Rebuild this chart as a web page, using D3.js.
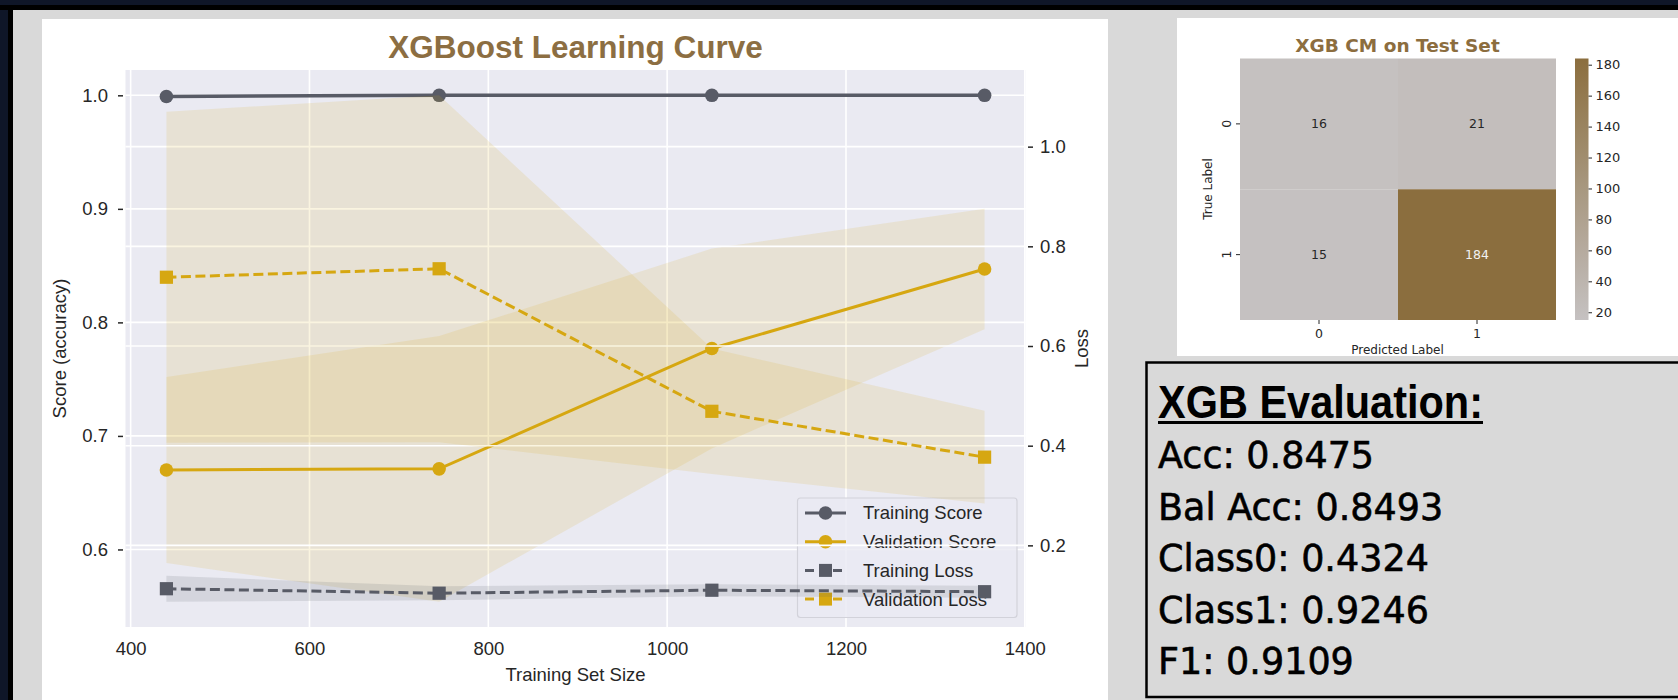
<!DOCTYPE html>
<html><head><meta charset="utf-8">
<script src="https://cdn.jsdelivr.net/npm/d3@7"></script>
<style>
html,body{margin:0;padding:0;background:#0f1628;}
svg{display:block;}
</style></head>
<body>
<svg id="c" width="1678" height="700"></svg>
<script>
// ---------- data ----------
const sizes = [440, 745, 1050, 1355];
const trainScore = [0.999, 1.0, 1.0, 1.0];
const trainScoreStd = [0.001, 0, 0, 0];
const valScore = [0.670, 0.671, 0.777, 0.847];
const valScoreStd = [0.082, 0.117, 0.088, 0.053];
const trainLoss = [0.113, 0.104, 0.110, 0.107];
const trainLossStd = [0.026, 0.014, 0.012, 0.012];
const valLoss = [0.738, 0.755, 0.469, 0.377];
const valLossStd = [0.332, 0.348, 0.126, 0.093];
const xTicks = [400, 600, 800, 1000, 1200, 1400];
const scoreTicks = [0.6, 0.7, 0.8, 0.9, 1.0];
const lossTicks = [0.2, 0.4, 0.6, 0.8, 1.0];
const legendLabels = ["Training Score", "Validation Score", "Training Loss", "Validation Loss"];

const cmRows = ["0", "1"];
const cmCols = ["0", "1"];
const cmValues = [[16, 21], [15, 184]];
const cbTicks = [20, 40, 60, 80, 100, 120, 140, 160, 180];

const evalTitle = "XGB Evaluation:";
const metricNames = ["Acc", "Bal Acc", "Class0", "Class1", "F1"];
const metricValues = ["0.8475", "0.8493", "0.4324", "0.9246", "0.9109"];

// ---------- styles ----------
const GRAY = "#585b66", GOLD = "#d6a711", TXT = "#262626";
const SANS = "'Liberation Sans', Arial, sans-serif";
const DJV = "'DejaVu Sans', sans-serif";

const svg = d3.select("#c");

// frame
svg.append("rect").attr("x",0).attr("y",0).attr("width",1678).attr("height",700).attr("fill","#0f1628");
svg.append("rect").attr("x",0).attr("y",5).attr("width",1678).attr("height",5).attr("fill","#000");
svg.append("rect").attr("x",8).attr("y",5).attr("width",5).attr("height",695).attr("fill","#000");
svg.append("rect").attr("x",13).attr("y",10).attr("width",1665).attr("height",690).attr("fill","#d9d9d9");
svg.append("rect").attr("x",42).attr("y",19).attr("width",1066).attr("height",681).attr("fill","#fff");

// ---------- learning curve ----------
const L = 125.5, R = 1025.5, T = 70, B = 627;
const xPad = (d3.max(sizes) - d3.min(sizes)) * 0.05;
const x = d3.scaleLinear().domain([d3.min(sizes) - xPad, d3.max(sizes) + xPad]).range([L, R]);

function padExt(means, stds){
  const lo = d3.min(means.map((m,i)=>m - stds[i]));
  const hi = d3.max(means.map((m,i)=>m + stds[i]));
  const p = (hi - lo) * 0.05;
  return [lo - p, hi + p];
}
const yS = d3.scaleLinear()
  .domain(padExt(trainScore.concat(valScore), trainScoreStd.concat(valScoreStd)))
  .range([B, T]);
const yL = d3.scaleLinear()
  .domain(padExt(trainLoss.concat(valLoss), trainLossStd.concat(valLossStd)))
  .range([B, T]);

const g = svg.append("g");
g.append("rect").attr("x",L).attr("y",T).attr("width",R-L).attr("height",B-T).attr("fill","#eaeaf2");

// primary grid
g.selectAll(".vg").data(xTicks).join("line")
  .attr("x1",d=>x(d)).attr("x2",d=>x(d)).attr("y1",T).attr("y2",B)
  .attr("stroke","#fff").attr("stroke-width",1.6);
g.selectAll(".hg").data(scoreTicks).join("line")
  .attr("x1",L).attr("x2",R).attr("y1",d=>yS(d)).attr("y2",d=>yS(d))
  .attr("stroke","#fff").attr("stroke-width",1.6);

function band(yScale, means, stds){
  return d3.area().x((d,i)=>x(sizes[i])).y0((d,i)=>yScale(means[i]-stds[i])).y1((d,i)=>yScale(means[i]+stds[i]))(means);
}
function lineP(yScale, means){
  return d3.line().x((d,i)=>x(sizes[i])).y(d=>yScale(d))(means);
}

// score bands
g.append("path").attr("d",band(yS,trainScore,trainScoreStd)).attr("fill",GRAY).attr("fill-opacity",0.15);
g.append("path").attr("d",band(yS,valScore,valScoreStd)).attr("fill",GOLD).attr("fill-opacity",0.13);

// score lines
g.append("path").attr("d",lineP(yS,trainScore)).attr("fill","none").attr("stroke",GRAY).attr("stroke-width",3.5);
g.selectAll(".tsm").data(trainScore).join("circle").attr("cx",(d,i)=>x(sizes[i])).attr("cy",d=>yS(d)).attr("r",6.8).attr("fill",GRAY);
g.append("path").attr("d",lineP(yS,valScore)).attr("fill","none").attr("stroke",GOLD).attr("stroke-width",3);
g.selectAll(".vsm").data(valScore).join("circle").attr("cx",(d,i)=>x(sizes[i])).attr("cy",d=>yS(d)).attr("r",6.8).attr("fill",GOLD);

// legend
const lg = g.append("g");
const lgX = 797.5, lgY = 498, lgW = 219.5, lgH = 119.5, rowH = 28.7, row0 = 513;
lg.append("rect").attr("x",lgX).attr("y",lgY).attr("width",lgW).attr("height",lgH).attr("rx",3)
  .attr("fill","#eaeaf2").attr("fill-opacity",0.8).attr("stroke","#d2d2da").attr("stroke-width",1.2);
const lgStyles = [
  {c:GRAY, dash:null, m:"circle"},
  {c:GOLD, dash:null, m:"circle"},
  {c:GRAY, dash:"10,4.5", m:"square"},
  {c:GOLD, dash:"10,4.5", m:"square"}
];
legendLabels.forEach((lab,i)=>{
  const yy = row0 + i*rowH, s = lgStyles[i];
  lg.append("line").attr("x1",805).attr("x2",846).attr("y1",yy).attr("y2",yy)
    .attr("stroke",s.c).attr("stroke-width",3).attr("stroke-dasharray",s.dash ? "9,5" : null);
  if (s.m === "circle") lg.append("circle").attr("cx",825.5).attr("cy",yy).attr("r",6.8).attr("fill",s.c);
  else lg.append("rect").attr("x",819).attr("y",yy-6.5).attr("width",13).attr("height",13).attr("fill",s.c);
  lg.append("text").attr("x",863).attr("y",yy).attr("dy","0.35em").attr("font-family",SANS)
    .attr("font-size",18.5).attr("fill",TXT).text(lab);
});

// twin grid (drawn over primary content)
g.selectAll(".lg2").data(lossTicks).join("line")
  .attr("x1",L).attr("x2",R).attr("y1",d=>yL(d)).attr("y2",d=>yL(d))
  .attr("stroke","#fff").attr("stroke-width",1.6);

// loss bands
g.append("path").attr("d",band(yL,trainLoss,trainLossStd)).attr("fill",GRAY).attr("fill-opacity",0.15);
g.append("path").attr("d",band(yL,valLoss,valLossStd)).attr("fill",GOLD).attr("fill-opacity",0.13);

// loss lines
g.append("path").attr("d",lineP(yL,trainLoss)).attr("fill","none").attr("stroke",GRAY).attr("stroke-width",3).attr("stroke-dasharray","10,4.5");
g.selectAll(".tlm").data(trainLoss).join("rect").attr("x",(d,i)=>x(sizes[i])-6.6).attr("y",d=>yL(d)-6.6).attr("width",13.2).attr("height",13.2).attr("fill",GRAY);
g.append("path").attr("d",lineP(yL,valLoss)).attr("fill","none").attr("stroke",GOLD).attr("stroke-width",3).attr("stroke-dasharray","10,4.5");
g.selectAll(".vlm").data(valLoss).join("rect").attr("x",(d,i)=>x(sizes[i])-6.6).attr("y",d=>yL(d)-6.6).attr("width",13.2).attr("height",13.2).attr("fill",GOLD);

// axes
function styleAxis(sel){
  sel.select(".domain").remove();
  sel.selectAll("text").attr("font-family",SANS).attr("font-size",18.5).attr("fill",TXT);
  sel.selectAll("line").attr("stroke",TXT).attr("stroke-width",1.5);
}
svg.append("g").attr("transform",`translate(0,${B})`)
  .call(d3.axisBottom(x).tickValues(xTicks).tickSize(0).tickPadding(14.5).tickFormat(d3.format("d")))
  .call(styleAxis);
svg.append("g").attr("transform",`translate(${L-2.5},0)`)
  .call(d3.axisLeft(yS).tickValues(scoreTicks).tickSize(5).tickPadding(10).tickFormat(d3.format(".1f")))
  .call(styleAxis);
svg.append("g").attr("transform",`translate(${R+2.5},0)`)
  .call(d3.axisRight(yL).tickValues(lossTicks).tickSize(5).tickPadding(7).tickFormat(d3.format(".1f")))
  .call(styleAxis);

// labels
svg.append("text").attr("x",(L+R)/2).attr("y",57.5).attr("text-anchor","middle")
  .attr("font-family",SANS).attr("font-weight","bold").attr("font-size",31.5).attr("fill","#8c6e42")
  .text("XGBoost Learning Curve");
svg.append("text").attr("x",(L+R)/2).attr("y",675).attr("dy","0.35em").attr("text-anchor","middle")
  .attr("font-family",SANS).attr("font-size",18.5).attr("fill",TXT).text("Training Set Size");
svg.append("text").attr("transform",`translate(60,${(T+B)/2}) rotate(-90)`).attr("dy","0.35em").attr("text-anchor","middle")
  .attr("font-family",SANS).attr("font-size",18.5).attr("fill",TXT).text("Score (accuracy)");
svg.append("text").attr("transform",`translate(1082,${(T+B)/2}) rotate(-90)`).attr("dy","0.35em").attr("text-anchor","middle")
  .attr("font-family",SANS).attr("font-size",18.5).attr("fill",TXT).text("Loss");

// ---------- confusion matrix ----------
svg.append("rect").attr("x",1177).attr("y",18).attr("width",501).attr("height",338).attr("fill","#fff");
const cmX = d3.scaleBand().domain(cmCols).range([1240, 1556]);
const cmY = d3.scaleBand().domain(cmRows).range([58.5, 320]);
const flat = cmValues.flat();
const vmin = d3.min(flat), vmax = d3.max(flat);
const col = d3.scaleLinear().domain([vmin, vmax]).range(["#c5c1c1", "#8b6e3e"]).interpolate(d3.interpolateRgb);
const cells = [];
cmRows.forEach((r,i)=>cmCols.forEach((c,j)=>cells.push({r,c,v:cmValues[i][j]})));
svg.selectAll(".cell").data(cells).join("rect")
  .attr("x",d=>cmX(d.c)).attr("y",d=>cmY(d.r)).attr("width",cmX.bandwidth()).attr("height",cmY.bandwidth())
  .attr("fill",d=>col(d.v));
svg.selectAll(".ann").data(cells).join("text")
  .attr("x",d=>cmX(d.c)+cmX.bandwidth()/2).attr("y",d=>cmY(d.r)+cmY.bandwidth()/2).attr("dy","0.35em")
  .attr("text-anchor","middle").attr("font-family",DJV).attr("font-size",12.5)
  .attr("fill",d=> d.v > (vmin+vmax)/2 ? "#f2f2f2" : "#262626").text(d=>d.v);

// cm ticks
cmRows.forEach(r=>{
  const yy = cmY(r)+cmY.bandwidth()/2;
  svg.append("line").attr("x1",1236).attr("x2",1240).attr("y1",yy).attr("y2",yy).attr("stroke","#262626").attr("stroke-width",1);
  svg.append("text").attr("transform",`translate(1227,${yy}) rotate(-90)`).attr("text-anchor","middle").attr("dy","0.35em")
    .attr("font-family",DJV).attr("font-size",12.5).attr("fill","#262626").text(r);
});
cmCols.forEach(c=>{
  const xx = cmX(c)+cmX.bandwidth()/2;
  svg.append("line").attr("x1",xx).attr("x2",xx).attr("y1",320).attr("y2",324).attr("stroke","#262626").attr("stroke-width",1);
  svg.append("text").attr("x",xx).attr("y",334).attr("text-anchor","middle").attr("dy","0.35em")
    .attr("font-family",DJV).attr("font-size",12.5).attr("fill","#262626").text(c);
});
svg.append("text").attr("x",1397.5).attr("y",350).attr("dy","0.35em").attr("text-anchor","middle")
  .attr("font-family",DJV).attr("font-size",12).attr("fill","#262626").text("Predicted Label");
svg.append("text").attr("transform","translate(1208,189) rotate(-90)").attr("dy","0.35em").attr("text-anchor","middle")
  .attr("font-family",DJV).attr("font-size",12).attr("fill","#262626").text("True Label");
svg.append("text").attr("x",1397.5).attr("y",51.5).attr("text-anchor","middle")
  .attr("font-family",DJV).attr("font-weight","bold").attr("font-size",18.5).attr("fill","#8c6d3e").text("XGB CM on Test Set");

// colorbar
const cbS = d3.scaleLinear().domain([vmin, vmax]).range([320, 58.5]);
const defs = svg.append("defs");
const grad = defs.append("linearGradient").attr("id","cbg").attr("x1",0).attr("x2",0).attr("y1",1).attr("y2",0);
d3.range(0,1.0001,0.1).forEach(t=>grad.append("stop").attr("offset",t).attr("stop-color",col(vmin + t*(vmax-vmin))));
svg.append("rect").attr("x",1575).attr("y",58.5).attr("width",13.5).attr("height",261.5).attr("fill","url(#cbg)");
svg.append("g").attr("transform","translate(1588.5,0)")
  .call(d3.axisRight(cbS).tickValues(cbTicks).tickSize(3.5).tickPadding(3.5))
  .call(s=>{s.select(".domain").remove();
    s.selectAll("text").attr("font-family",DJV).attr("font-size",13).attr("fill","#262626");
    s.selectAll("line").attr("stroke","#262626");});

// ---------- evaluation box ----------
svg.append("rect").attr("x",1146.5).attr("y",362.5).attr("width",600).attr("height",334.5)
  .attr("fill","#d9d9d9").attr("stroke","#000").attr("stroke-width",2.5);
svg.append("text").attr("x",1158).attr("y",418).attr("font-family",SANS).attr("font-weight","bold")
  .attr("font-size",46).attr("fill","#000").attr("textLength",325).attr("lengthAdjust","spacingAndGlyphs").text(evalTitle);
svg.append("rect").attr("x",1158).attr("y",421).attr("width",325).attr("height",3).attr("fill","#000");
metricNames.forEach((m,i)=>{
  svg.append("text").attr("x",1158).attr("y",468 + i*51.5).attr("font-family",DJV)
    .attr("font-size",36.5).attr("fill","#000").attr("stroke","#000").attr("stroke-width",0.6)
    .text(m + ": " + metricValues[i]);
});
</script>
</body></html>
